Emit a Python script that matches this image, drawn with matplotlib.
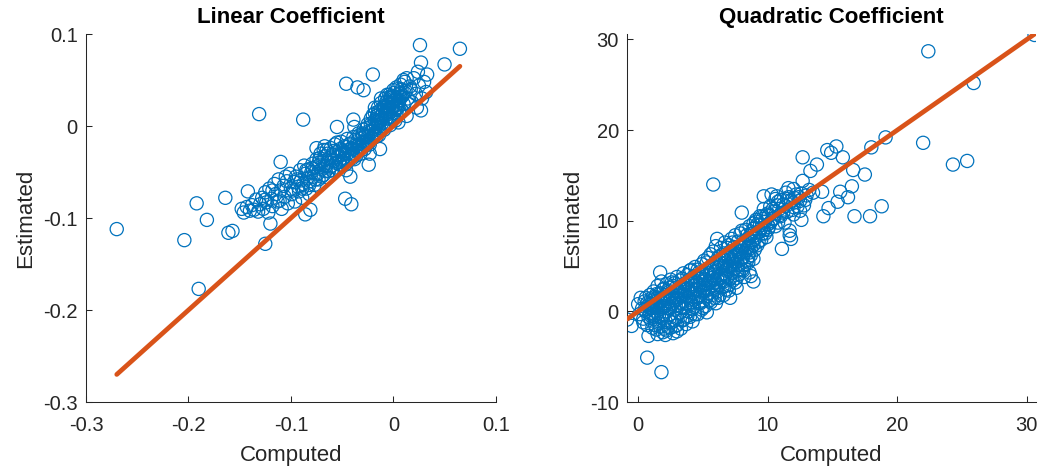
import numpy as np
import matplotlib
matplotlib.use('Agg')
import matplotlib.pyplot as plt

# -------------------------
# Data
# -------------------------
# Linear coefficient: computed (x) vs estimated (y)
lin_x = [
    -0.270, -0.204, -0.190, -0.192, -0.182, -0.164, -0.161, -0.157, -0.131, -0.088,
    -0.142, -0.125, -0.120, -0.110, -0.020, -0.046, -0.035, -0.029, 0.026, 0.065,
    0.050, 0.027, 0.033, 0.024, 0.032, 0.023, -0.047, -0.041, -0.042, -0.024,
    -0.086, -0.081,
    -0.148, -0.146, -0.143, -0.140, -0.138, -0.136, -0.134, -0.132, -0.130, -0.128,
    -0.127, -0.125, -0.124, -0.122, -0.121, -0.119, -0.118, -0.116, -0.115, -0.113,
    -0.112, -0.110, -0.109, -0.107, -0.106, -0.104, -0.103, -0.101, -0.100, -0.099,
    -0.097, -0.096, -0.095, -0.093, -0.092, -0.091, -0.090, -0.089, -0.088, -0.087,
    -0.086, -0.085, -0.084, -0.083, -0.082, -0.081, -0.080, -0.079, -0.078, -0.077,
    -0.076, -0.075, -0.074, -0.073, -0.072, -0.071, -0.070, -0.069, -0.068, -0.067,
    -0.066, -0.065, -0.064, -0.063, -0.062, -0.061, -0.060, -0.059, -0.058, -0.057,
    -0.056, -0.055, -0.054, -0.053, -0.052, -0.051, -0.050, -0.049, -0.048, -0.047,
    -0.046, -0.045, -0.044, -0.043, -0.042, -0.041, -0.040, -0.039, -0.038, -0.037,
    -0.036, -0.035, -0.034, -0.033, -0.032, -0.031, -0.030, -0.029, -0.028, -0.027,
    -0.026, -0.025, -0.024, -0.023, -0.022, -0.021, -0.020, -0.019, -0.018, -0.017,
    -0.016, -0.015, -0.014, -0.013, -0.012, -0.011, -0.010, -0.009, -0.008, -0.007,
    -0.006, -0.005, -0.004, -0.003, -0.002, -0.001, 0.000, 0.001, 0.002, 0.003,
    0.004, 0.005, 0.006, 0.007, 0.008, 0.009, 0.010, 0.011, 0.012, 0.013,
    0.014, 0.016, 0.018, 0.020, 0.022, 0.025, 0.028, 0.030,
    -0.055, -0.039, -0.038, -0.075, -0.067, -0.023, -0.013, -0.046, 0.000, 0.010,
    0.013, 0.027, -0.028, -0.024, -0.019, -0.015, -0.011, -0.007, -0.003, 0.002,
    0.006, -0.026, -0.021, -0.017, -0.012, -0.008, -0.004, 0.003, 0.008, -0.032,
    -0.014, -0.009, -0.001, 0.004, 0.011, 0.015, 0.017, -0.005, -0.016, -0.002,
    -0.125, -0.118, -0.111, -0.105, -0.098, -0.094, -0.089, -0.085, -0.082, -0.079,
    -0.076, -0.073, -0.070, -0.068, -0.066, -0.064, -0.062, -0.060, -0.058, -0.056,
    -0.054, -0.052, -0.050, -0.048, -0.046, -0.044, -0.043, -0.041, -0.039, -0.037,
    -0.036, -0.034, -0.033, -0.031, -0.030, -0.029, -0.027, -0.026, -0.025, -0.023,
    -0.022, -0.021, -0.019, -0.018, -0.017, -0.016, -0.015, -0.014, -0.013, -0.012,
    -0.011, -0.010, -0.009, -0.008, -0.007, -0.006, -0.005, -0.004, -0.003, -0.002,
    -0.001, 0.000, 0.001, 0.002, 0.003, 0.004, 0.005, 0.006, 0.007, 0.008,
    -0.020, -0.018, -0.015, -0.012, -0.009, -0.006, -0.003, 0.000, 0.003, 0.006,
    -0.060, -0.055, -0.050, -0.045, -0.040, -0.035, -0.030, -0.072, -0.068, -0.064,
]
lin_y = [
    -0.112, -0.124, -0.177, -0.084, -0.102, -0.078, -0.116, -0.114, 0.013, 0.007,
    -0.071, -0.128, -0.106, -0.039, 0.056, 0.046, 0.042, 0.039, 0.088, 0.084,
    0.067, 0.069, 0.056, 0.059, 0.037, 0.020, -0.079, -0.085, -0.055, -0.042,
    -0.096, -0.091,
    -0.090, -0.094, -0.088, -0.092, -0.086, -0.091, -0.080, -0.093, -0.085, -0.078,
    -0.090, -0.072, -0.083, -0.094, -0.068, -0.079, -0.087, -0.063, -0.074, -0.082,
    -0.058, -0.070, -0.090, -0.065, -0.077, -0.060, -0.084, -0.052, -0.068, -0.074,
    -0.061, -0.082, -0.055, -0.066, -0.071, -0.048, -0.059, -0.078, -0.063, -0.043,
    -0.052, -0.068, -0.057, -0.047, -0.074, -0.060, -0.050, -0.041, -0.055, -0.064,
    -0.045, -0.036, -0.052, -0.058, -0.042, -0.030, -0.047, -0.038, -0.053, -0.033,
    -0.044, -0.026, -0.040, -0.049, -0.035, -0.024, -0.043, -0.031, -0.038, -0.020,
    -0.045, -0.028, -0.034, -0.039, -0.025, -0.017, -0.031, -0.036, -0.022, -0.029,
    -0.041, -0.014, -0.026, -0.033, -0.019, -0.024, -0.030, -0.012, -0.036, -0.021,
    -0.027, -0.016, -0.008, -0.023, -0.030, -0.013, -0.019, -0.004, -0.025, -0.010,
    -0.016, 0.002, -0.006, -0.020, 0.008, -0.012, 0.001, -0.003, 0.014, -0.008,
    0.005, 0.020, -0.002, 0.010, 0.025, 0.003, 0.016, -0.004, 0.030, 0.008,
    0.021, 0.013, 0.034, 0.001, 0.018, 0.027, 0.009, 0.036, 0.022, 0.014,
    0.040, 0.004, 0.028, 0.045, 0.017, 0.033, 0.024, 0.048, 0.038, 0.011,
    0.030, 0.043, 0.026, 0.052, 0.035, 0.044, 0.030, 0.048,
    -0.001, 0.007, -0.001, -0.024, -0.022, -0.030, -0.025, -0.048, 0.039, 0.050,
    0.052, 0.017, -0.012, -0.018, -0.008, 0.004, 0.012, 0.015, 0.010, 0.006,
    0.017, -0.020, -0.014, -0.001, 0.006, 0.022, 0.026, 0.030, 0.032, -0.022,
    -0.010, 0.000, 0.021, 0.019, 0.036, 0.024, 0.040, 0.019, 0.011, 0.031,
    -0.080, -0.070, -0.081, -0.055, -0.070, -0.058, -0.068, -0.048, -0.064, -0.046,
    -0.058, -0.040, -0.055, -0.043, -0.049, -0.030, -0.045, -0.037, -0.027, -0.040,
    -0.032, -0.042, -0.026, -0.035, -0.023, -0.038, -0.020, -0.030, -0.025, -0.015,
    -0.032, -0.020, -0.010, -0.026, -0.008, -0.017, -0.021, -0.002, -0.012, -0.016,
    0.002, -0.006, -0.010, 0.006, 0.000, -0.011, 0.012, 0.004, -0.005, 0.018,
    0.008, 0.000, 0.022, 0.012, 0.026, 0.003, 0.016, 0.024, 0.030, 0.010,
    0.020, 0.032, 0.014, 0.028, 0.020, 0.034, 0.024, 0.014, 0.036, 0.040,
    0.012, 0.020, 0.015, 0.030, 0.020, 0.034, 0.032, 0.025, 0.042, 0.032,
    -0.048, -0.018, -0.038, -0.030, -0.035, -0.026, -0.010, -0.035, -0.026, -0.056,
]

# Quadratic coefficient: computed (x) vs estimated (y)
quad_x = [
    30.6, 22.4, 25.9, 22.0, 24.3, 25.4, 19.1, 18.0, 18.8, 17.9,
    16.7, 17.5, 16.6, 16.5, 16.2, 15.6, 15.4, 15.8, 15.3, 14.9,
    14.6, 14.3, 14.7, 14.2, 13.8, 13.5, 13.3, 12.7, 12.7, 12.6,
    11.8, 11.7, 11.7, 11.1, 5.8, 8.0, 8.9, 7.1, 5.3, 0.7,
    1.8, 0.8, -0.5, -0.85, 0.4, 3.0, 1.7, 6.1, 9.7, 10.3,
    11.6, 10.7, 10.9, 11.5, 12.0, 12.4, 12.5, 12.0, 10.0, 10.4,
    9.7, 9.4, 9.1, 8.9, 8.4, 8.6, 8.5, 8.1, 8.7,
    0.0, 0.1, 0.2, 0.3, 0.4, 0.5, 0.6, 0.7, 0.8, 0.9, 1.0, 1.0,
    1.1, 1.1, 1.2, 1.2, 1.3, 1.3, 1.4, 1.4, 1.5, 1.5, 1.6, 1.6, 1.7, 1.7,
    1.8, 1.8, 1.9, 1.9, 2.0, 2.0,
    2.1, 2.1, 2.2, 2.2, 2.3, 2.3, 2.4, 2.4, 2.5, 2.5, 2.6, 2.6, 2.7, 2.7,
    2.8, 2.8, 2.9, 2.9, 3.0, 3.0, 3.0,
    3.1, 3.1, 3.2, 3.2, 3.3, 3.3, 3.4, 3.4, 3.5, 3.5, 3.6, 3.6, 3.7, 3.7,
    3.8, 3.8, 3.9, 3.9, 4.0, 4.0, 4.0,
    4.1, 4.1, 4.2, 4.2, 4.3, 4.3, 4.4, 4.4, 4.5, 4.5, 4.6, 4.6, 4.7, 4.7,
    4.8, 4.8, 4.9, 4.9, 5.0, 5.0, 5.0,
    5.1, 5.1, 5.2, 5.2, 5.3, 5.3, 5.4, 5.4, 5.5, 5.5, 5.6, 5.6, 5.7, 5.7,
    5.8, 5.8, 5.9, 5.9, 6.0, 6.0, 6.0,
    6.1, 6.2, 6.2, 6.3, 6.3, 6.4, 6.4, 6.5, 6.5, 6.6, 6.6, 6.7, 6.7, 6.8,
    6.8, 6.9, 6.9, 7.0, 7.0, 7.0,
    7.1, 7.2, 7.2, 7.3, 7.3, 7.4, 7.4, 7.5, 7.5, 7.6, 7.6, 7.7, 7.7, 7.8,
    7.8, 7.9, 7.9, 8.0, 8.0, 8.0,
    8.1, 8.2, 8.2, 8.3, 8.3, 8.4, 8.5, 8.5, 8.6, 8.7, 8.7, 8.8, 8.9, 8.9,
    9.0, 9.0,
    9.1, 9.2, 9.3, 9.4, 9.5, 9.5, 9.6, 9.8, 9.9, 10.0, 10.1, 10.2, 10.3, 10.5,
    10.6, 10.8, 11.0, 11.2, 11.3, 11.5, 11.8, 12.0, 12.2, 12.5, 12.8, 13.0,
    0.5, 0.6, 0.7, 0.8, 0.9, 1.0, 1.1, 1.2, 1.3, 1.4,
    1.5, 1.6, 1.7, 1.8, 1.9, 2.0, 2.0, 1.5, 1.2, 0.9,
    2.1, 2.2, 2.3, 2.4, 2.5, 2.6, 2.7, 2.8, 2.9, 3.0,
    3.1, 3.2, 3.3, 3.4, 3.5, 2.4, 2.8, 3.2, 2.6, 3.4,
    3.6, 3.7, 3.8, 3.9, 4.0, 4.1, 4.2, 4.3, 4.4, 4.5,
    4.6, 4.7, 4.8, 4.9, 5.0, 3.6, 4.2, 4.6, 4.0, 4.8,
    5.1, 5.2, 5.3, 5.4, 5.5, 5.6, 5.7, 5.8, 5.9, 6.0,
    6.1, 6.2, 6.3, 6.4, 6.5, 5.3, 5.7, 6.0, 6.4, 6.2,
    6.6, 6.7, 6.8, 6.9, 7.0, 7.1, 7.2, 7.3, 7.4, 7.5,
    7.6, 7.7, 7.8, 7.9, 8.0, 6.7, 7.1, 7.5, 6.9, 7.3,
    8.1, 8.2, 8.3, 8.4, 8.5, 8.6, 8.7, 8.8, 8.9, 9.0,
    9.1, 9.2, 9.3, 9.4, 9.5, 9.6, 9.7, 9.8, 9.9, 10.0,
    10.1, 10.2, 10.4, 10.5, 10.7, 10.9, 11.0, 11.2, 11.4, 11.6,
    11.9, 12.1, 12.3, 12.6, 12.9, 13.2, 10.6, 11.4, 12.0, 10.8,
    1.0, 1.3, 1.7, 2.0, 2.2, 2.5, 2.9, 3.4, 3.8, 4.4,
    5.0, 5.5, 6.0, 6.6, 7.0, 7.6, 8.2, 8.6, 2.1, 1.5,
]
quad_y = [
    30.5, 28.7, 25.2, 18.6, 16.2, 16.6, 19.2, 18.1, 11.6, 10.5,
    10.5, 15.1, 15.6, 13.8, 12.6, 13.2, 12.1, 17.0, 18.2, 17.5,
    17.8, 10.5, 11.4, 13.2, 16.2, 13.1, 15.5, 17.0, 14.4, 10.1,
    8.0, 8.4, 8.9, 6.9, 14.0, 10.9, 3.3, 1.5, -0.1, -5.1,
    -6.7, -2.7, -1.6, -0.9, -1.2, -2.2, 4.3, 8.0, 12.7, 12.9,
    13.6, 12.7, 11.3, 12.4, 12.0, 12.6, 11.1, 10.7, 9.6, 10.2,
    11.3, 10.5, 9.9, 9.1, 8.4, 6.5, 5.4, 4.5, 3.9,
    0.8, -0.3, 1.5, 0.3, -0.8, 1.1, 0.0, -1.5, 0.7, 1.8, -0.5, 0.4,
    1.2, -1.8, 2.2, 0.1, -0.9, 1.6, 0.7, -2.0, 2.8, -0.2, 1.0, -1.3, 2.0, 0.3,
    -0.7, 3.3, 1.4, -2.3, 0.6, 2.5,
    -1.0, 1.8, 3.0, 0.0, -1.7, 2.3, 1.1, -0.4, 3.5, 0.5, -1.2, 2.0, 1.5, -2.4,
    0.2, 3.1, -0.7, 2.6, 1.3, -1.5, 3.8,
    0.7, 2.2, -0.2, 3.4, 1.7, -1.9, 2.8, 0.4, 4.2, -0.9, 1.9, 3.1, 0.9, -1.4,
    2.5, 4.0, 0.0, 1.5, 3.5, -0.6, 2.1,
    4.6, 1.0, 2.8, -1.1, 3.9, 0.5, 2.0, 4.9, 1.4, 3.2, -0.3, 2.5, 4.3, 0.9,
    3.6, 1.8, 5.2, 0.2, 2.9, 4.0, 1.2,
    5.6, 2.3, 3.4, 0.6, 4.6, 1.7, 5.9, 3.0, 2.0, 4.2, 6.3, 1.0, 3.7, 5.1,
    2.6, 6.6, 4.4, 1.5, 3.2, 5.5, 7.2,
    2.2, 4.8, 6.0, 3.6, 1.8, 5.3, 7.0, 4.1, 2.7, 6.4, 3.3, 5.7, 7.6, 4.5,
    2.4, 6.1, 3.8, 7.3, 5.0, 2.9,
    6.6, 4.2, 8.0, 5.5, 3.4, 7.1, 6.0, 4.7, 8.4, 3.7, 6.8, 5.2, 7.7, 4.1,
    6.3, 8.6, 5.7, 7.0, 4.6, 8.9,
    6.0, 7.5, 5.1, 9.0, 6.7, 5.6, 8.1, 7.1, 9.4, 6.2, 8.5, 7.7, 5.8, 9.7,
    8.0, 6.8,
    10.1, 7.3, 8.8, 9.5, 7.9, 10.4, 8.6, 9.9, 8.2, 10.8, 9.3, 11.6, 10.0, 11.0,
    9.4, 12.1, 10.5, 11.8, 9.8, 11.0, 12.2, 11.5, 12.9, 12.2, 11.7, 12.8,
    0.2, 1.5, 0.9, -0.6, 0.4, 1.4, 0.6, -0.6, 0.8, 1.9,
    0.5, -0.5, 1.3, 0.5, 2.4, -0.3, 1.6, 1.5, 1.0, -0.2,
    0.6, 1.4, 0.4, 2.6, 1.6, 0.8, 2.8, 1.2, 0.6, 2.2,
    1.4, 2.6, 0.9, 1.8, 2.7, 0.3, -1.0, 1.0, 3.2, 3.6,
    2.4, 1.7, 3.2, 2.3, 1.3, 3.0, 2.1, 1.6, 3.4, 2.4,
    1.5, 3.0, 2.6, 4.2, 2.1, 0.4, 0.3, 4.6, 4.5, 0.9,
    3.6, 2.6, 4.0, 2.4, 3.3, 4.7, 2.9, 4.0, 3.5, 4.4,
    3.6, 2.9, 5.0, 4.0, 3.4, 5.4, 1.8, 2.5, 6.2, 1.5,
    5.0, 4.0, 5.4, 4.7, 6.0, 4.9, 5.8, 4.4, 5.2, 6.2,
    5.5, 4.6, 7.2, 6.6, 5.8, 2.8, 3.6, 3.2, 7.0, 7.6,
    7.2, 6.4, 7.8, 7.0, 6.0, 7.5, 7.0, 8.6, 7.3, 9.2,
    8.4, 9.6, 7.7, 8.8, 9.2, 10.2, 9.0, 8.6, 10.6, 9.0,
    10.6, 9.8, 11.3, 10.3, 11.7, 10.6, 12.3, 10.9, 11.6, 12.6,
    11.2, 12.5, 11.6, 13.0, 12.3, 13.4, 12.4, 13.1, 13.5, 9.8,
    -1.0, -1.5, -1.7, -1.9, -2.1, -1.8, -1.6, -1.0, -0.5, -0.3,
    0.4, 1.2, 0.9, 1.8, 2.3, 2.6, 3.8, 4.3, -2.6, -2.5,
]

panels = [
    ("Linear Coefficient", lin_x, lin_y),
    ("Quadratic Coefficient", quad_x, quad_y),
]
xlims = [(-0.3, 0.1), (-0.85, 30.7)]
ylims = [(-0.3, 0.1), (-10, 30.6)]
xticks = [[-0.3, -0.2, -0.1, 0, 0.1], [0, 10, 20, 30]]
xticklabels = [["-0.3", "-0.2", "-0.1", "0", "0.1"], ["0", "10", "20", "30"]]
yticks = [[-0.3, -0.2, -0.1, 0, 0.1], [-10, 0, 10, 20, 30]]
yticklabels = [["-0.3", "-0.2", "-0.1", "0", "0.1"], ["-10", "0", "10", "20", "30"]]

plt.rcParams['font.family'] = ['Liberation Sans', 'DejaVu Sans']
plt.rcParams['axes.unicode_minus'] = False

fig = plt.figure(figsize=(10.4, 4.73), dpi=100)
axes = [fig.add_axes([0.0827, 0.150, 0.394, 0.778]),
        fig.add_axes([0.603, 0.150, 0.393, 0.778])]

for i, (ax, (title, xs, ys)) in enumerate(zip(axes, panels)):
    xs = np.array(xs)
    ys = np.array(ys)
    ax.scatter(xs, ys, s=90, facecolors='none', edgecolors='#0072BD',
               linewidths=0.9, zorder=2)
    # identity line across the range of computed values
    ends = np.array([xs.min(), xs.max()])
    ax.plot(ends, ends, color='#D95319', linewidth=3.4, solid_capstyle='round', zorder=3)

    ax.set_xlim(*xlims[i])
    ax.set_ylim(*ylims[i])
    ax.set_xticks(xticks[i])
    ax.set_xticklabels(xticklabels[i])
    ax.set_yticks(yticks[i])
    ax.set_yticklabels(yticklabels[i])

    for side in ['top', 'right']:
        ax.spines[side].set_visible(False)
    for side in ['left', 'bottom']:
        ax.spines[side].set_color('#262626')
        ax.spines[side].set_linewidth(0.75)
    ax.tick_params(direction='in', length=4, width=0.75, colors='#262626',
                   labelsize=14.5)
    ax.tick_params(axis='x', pad=10)
    ax.tick_params(axis='y', pad=6)

    ax.set_title(title, fontsize=16, fontweight='bold', pad=8)
    ax.set_xlabel("Computed", fontsize=16, color='#262626', labelpad=7)
    ax.set_ylabel("Estimated", fontsize=16, color='#262626', labelpad=5)

fig.savefig('out.png', dpi=100)
